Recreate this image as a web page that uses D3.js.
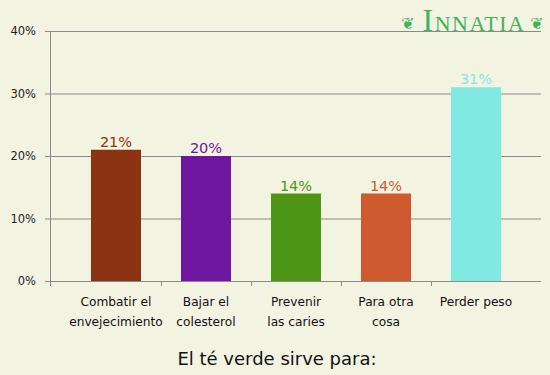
<!DOCTYPE html>
<html>
<head>
<meta charset="utf-8">
<script src="https://cdn.jsdelivr.net/npm/d3@7"></script>
<style>
  body { margin: 0; background: #f3f3e2; }
  text { font-family: "DejaVu Sans", Verdana, sans-serif; }
  text.logo { font-family: "Liberation Serif", "DejaVu Serif", serif; }
</style>
</head>
<body>
<div id="chart"></div>
<script>
const categories = [["Combatir el", "envejecimiento"], ["Bajar el", "colesterol"], ["Prevenir", "las caries"], ["Para otra", "cosa"], ["Perder peso"]];
const values = [21, 20, 14, 14, 31];
const colors = ["#8b3210", "#6e16a0", "#4e9616", "#d05a30", "#80eae2"];
const yTicks = [0, 10, 20, 30, 40];
const title = "El té verde sirve para:";

let W = 550, H = 375,
    svg = d3.select("#chart").append("svg").attr("width", W).attr("height", H),
    mLeft = 50, mRight = 541, mTop = 31, mBottom = 281;

svg.append("rect").attr("width", W).attr("height", H).attr("fill", "#f3f3e2");

let x = d3.scaleBand().domain(d3.range(values.length)).range([71, 521]).paddingInner(0.444).paddingOuter(0.222),
    y = d3.scaleLinear().domain([0, 40]).range([mBottom, mTop]);

// grid
svg.append("g").selectAll("line").data(yTicks).join("line")
    .attr("x1", mLeft - 5).attr("x2", mRight)
    .attr("y1", d => y(d) + 0.5).attr("y2", d => y(d) + 0.5)
    .attr("stroke", "#8a8a8a").attr("stroke-width", 1);

svg.append("g").selectAll("text").data(yTicks).join("text")
    .attr("x", mLeft - 14).attr("y", d => y(d) + 4)
    .attr("text-anchor", "end").attr("font-size", 11.5).attr("fill", "#222")
    .text(d => d + "%");

// logo
let logo = svg.append("g");
let lt = logo.append("text").attr("class", "logo").attr("x", 474).attr("y", 31).attr("text-anchor", "middle")
    .attr("font-size", 22).attr("fill", "#45b25a").attr("letter-spacing", 1.5);
lt.append("tspan").attr("font-size", 32).text("I");
lt.append("tspan").text("NNATIA");
logo.append("text").attr("x", 408).attr("y", 29).attr("text-anchor", "middle")
    .attr("font-size", 16).attr("fill", "#45b25a").text("❦");
logo.append("text").attr("x", 537).attr("y", 29).attr("text-anchor", "middle")
    .attr("font-size", 16).attr("fill", "#45b25a").text("❦");

// bars
svg.append("g").selectAll("rect").data(values).join("rect")
    .attr("x", (d, i) => x(i)).attr("width", x.bandwidth())
    .attr("y", d => y(d)).attr("height", d => mBottom - y(d))
    .attr("fill", (d, i) => colors[i]);

svg.append("g").selectAll("text").data(values).join("text")
    .attr("x", (d, i) => x(i) + x.bandwidth() / 2).attr("y", d => y(d) - 3)
    .attr("text-anchor", "middle").attr("font-size", 14.5)
    .attr("fill", (d, i) => colors[i])
    .text(d => d + "%");

// axes lines
svg.append("line").attr("x1", mLeft + 0.5).attr("x2", mLeft + 0.5).attr("y1", mTop).attr("y2", mBottom + 5)
    .attr("stroke", "#8a8a8a");
svg.append("line").attr("x1", mLeft).attr("x2", mRight).attr("y1", mBottom + 0.5).attr("y2", mBottom + 0.5)
    .attr("stroke", "#8a8a8a");

let xt = [mLeft].concat(d3.range(1, values.length).map(i => x(i) - 20));
svg.append("g").selectAll("line").data(xt).join("line")
    .attr("x1", d => Math.round(d) + 0.5).attr("x2", d => Math.round(d) + 0.5)
    .attr("y1", mBottom).attr("y2", mBottom + 5)
    .attr("stroke", "#8a8a8a");

// category labels
let lab = svg.append("g").selectAll("text").data(categories).join("text")
    .attr("x", (d, i) => x(i) + x.bandwidth() / 2).attr("y", 306)
    .attr("text-anchor", "middle").attr("font-size", 12.2).attr("fill", "#111");
lab.selectAll("tspan").data(d => d).join("tspan")
    .attr("x", function () { return this.parentNode.getAttribute("x"); })
    .attr("dy", (d, i) => i ? 20 : 0)
    .text(d => d);

svg.append("text").attr("x", 277).attr("y", 365).attr("text-anchor", "middle")
    .attr("font-size", 18).attr("fill", "#111").text(title);
</script>
</body>
</html>
